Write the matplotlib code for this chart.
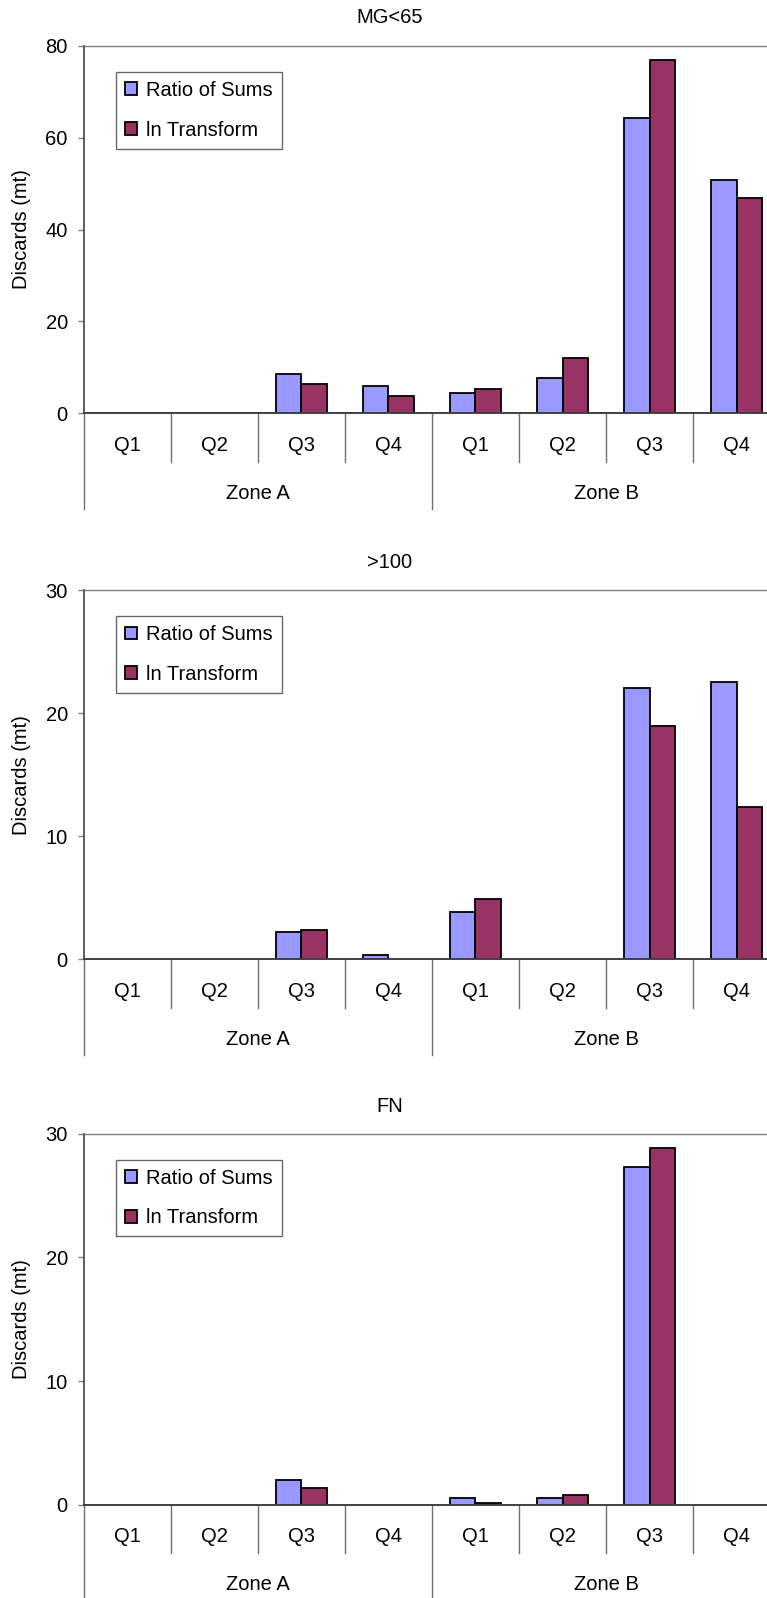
import numpy as np
import matplotlib
matplotlib.use("Agg")
import matplotlib.pyplot as plt
from matplotlib import transforms
from matplotlib.patches import Patch

plt.rcParams['font.family'] = ['Liberation Sans', 'DejaVu Sans']

# ---- data ---------------------------------------------------------------
quarters = ['Q1', 'Q2', 'Q3', 'Q4', 'Q1', 'Q2', 'Q3', 'Q4']
zones = ['Zone A', 'Zone B']
series_names = ['Ratio of Sums', 'ln Transform']

titles = ['MG<65', '>100', 'FN']
y_max = [80, 30, 30]
y_step = [20, 10, 10]

mg65_ratio = [0, 0, 8.6, 5.9, 4.5, 7.7, 64.3, 50.7]
mg65_ln = [0, 0, 6.4, 3.8, 5.2, 12.0, 76.9, 46.8]

gt100_ratio = [0, 0, 2.24, 0.33, 3.87, 0, 22.06, 22.5]
gt100_ln = [0, 0, 2.4, 0, 4.87, 0, 18.95, 12.35]

fn_ratio = [0, 0, 2.03, 0, 0.59, 0.57, 27.27, 0]
fn_ln = [0, 0, 1.4, 0, 0.14, 0.78, 28.87, 0]

panels = [(mg65_ratio, mg65_ln), (gt100_ratio, gt100_ln), (fn_ratio, fn_ln)]

# ---- styling ------------------------------------------------------------
BLUE = '#9999FF'
PLUM = '#993366'
FS = 14.5
W, H = 767, 1598
DPI = 100

fig = plt.figure(figsize=(W / DPI, H / DPI), dpi=DPI)
fig.patch.set_facecolor('white')

left_px = 83.5
cat_px = 87.1
n = len(quarters)
width_px = cat_px * n
# (top, zero-line) in pixels for each panel
rows = [(45.7, 413.3), (590.0, 959.3), (1133.6, 1505.0)]
title_y = [17.5, 562.5, 1106.0]
title_x = 390

bar_w = 0.29
x = np.arange(n)

for k, ((top_px, zero_px), (r_vals, l_vals)) in enumerate(zip(rows, panels)):
    ax_h = zero_px - top_px
    ax = fig.add_axes([left_px / W, 1 - zero_px / H, width_px / W, ax_h / H])
    ax.set_xlim(-0.5, n - 0.5)
    ax.set_ylim(0, y_max[k])

    for vals, off, col in ((r_vals, -bar_w / 2, BLUE), (l_vals, bar_w / 2, PLUM)):
        lw = [1.3 if v > 0 else 0 for v in vals]
        ax.bar(x + off, vals, width=bar_w, color=col, edgecolor='black',
               linewidth=lw, zorder=3)

    # spines
    ax.spines['right'].set_visible(False)
    ax.spines['top'].set_color('#808080')
    ax.spines['top'].set_linewidth(1.0)
    ax.spines['left'].set_color('#404040')
    ax.spines['left'].set_linewidth(1.2)
    ax.spines['bottom'].set_color('#404040')
    ax.spines['bottom'].set_linewidth(1.4)
    ax.spines['bottom'].set_zorder(4)

    ax.set_yticks(np.arange(0, y_max[k] + 1, y_step[k]))
    ax.tick_params(axis='y', direction='out', length=4.3, width=1.0,
                   color='#808080', labelsize=FS, pad=7)
    ax.set_xticks([])

    ax.set_ylabel('Discards (mt)', fontsize=FS)
    ax.yaxis.set_label_coords((31 - left_px) / width_px, 0.5)

    # two-level category axis below the zero line
    def below(px):
        return transforms.blended_transform_factory(ax.transData, ax.transAxes) + \
            transforms.ScaledTranslation(0, -px / DPI, fig.dpi_scale_trans)

    seg_t = transforms.blended_transform_factory(ax.transData, ax.transAxes)
    for b in range(0, n + 1):
        depth = 96 if b % 4 == 0 else 48.4
        ln = plt.Line2D([b - 0.5, b - 0.5], [0, -depth / ax_h],
                        color='#707070', linewidth=1.0, clip_on=False,
                        transform=seg_t)
        ax.add_line(ln)

    for i, q in enumerate(quarters):
        ax.text(i, 0, q, transform=below(32), ha='center', va='center',
                fontsize=FS, clip_on=False)
    for z, name in enumerate(zones):
        ax.text(z * 4 + 1.5, 0, name, transform=below(80), ha='center',
                va='center', fontsize=FS, clip_on=False)

    fig.text(title_x / W, 1 - title_y[k] / H, titles[k], ha='center',
             va='center', fontsize=FS)

    handles = [Patch(facecolor=BLUE, edgecolor='black', linewidth=1.3),
               Patch(facecolor=PLUM, edgecolor='black', linewidth=1.3)]
    leg = ax.legend(handles, series_names, loc='upper left',
                    bbox_to_anchor=((115.7 - left_px) / width_px, 1 - 26 / ax_h),
                    borderaxespad=0, fontsize=FS, frameon=True, fancybox=False,
                    handlelength=0.6, handleheight=0.6, handletextpad=0.46,
                    borderpad=0.45, labelspacing=1.03)
    leg.get_frame().set_edgecolor('#404040')
    leg.get_frame().set_linewidth(1.0)
    leg.set_zorder(5)

fig.savefig('out.png', dpi=DPI, facecolor='white')
